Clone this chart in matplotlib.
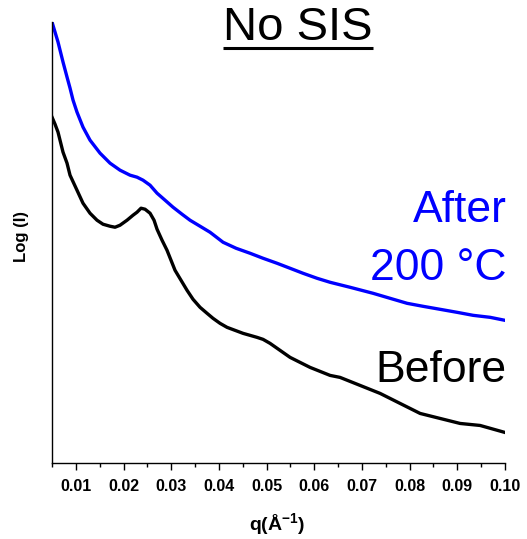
import matplotlib
matplotlib.use("Agg")
import matplotlib.pyplot as plt
from matplotlib.lines import Line2D
from matplotlib.ticker import MultipleLocator, FixedLocator

plt.rcParams['font.family'] = ['Liberation Sans', 'DejaVu Sans']
plt.rcParams['mathtext.fontset'] = 'custom'
plt.rcParams['mathtext.rm'] = 'Liberation Sans'
plt.rcParams['mathtext.bf'] = 'Liberation Sans:bold'

# Scattering vector q (1/Angstrom) and log intensity (arbitrary offset units)
q_after = [0.00500, 0.00563, 0.00626, 0.00731, 0.00815, 0.00878, 0.00941, 0.01024,
           0.01150, 0.01297, 0.01507, 0.01717, 0.01926, 0.02136, 0.02283, 0.02409,
           0.02556, 0.02703, 0.02871, 0.03038, 0.03227, 0.03395, 0.03605, 0.03814,
           0.04087, 0.04360, 0.04654, 0.04926, 0.05220, 0.05493, 0.05765, 0.06059,
           0.06332, 0.06752, 0.07234, 0.07590, 0.07947, 0.08283, 0.08640, 0.08996,
           0.09332, 0.09689, 0.10000]
logI_after = [4.40, 4.30, 4.20, 4.00, 3.85, 3.74, 3.62, 3.50,
              3.35, 3.22, 3.09, 2.99, 2.92, 2.87, 2.85, 2.82,
              2.77, 2.69, 2.62, 2.55, 2.48, 2.42, 2.36, 2.30,
              2.20, 2.14, 2.09, 2.04, 1.99, 1.94, 1.89, 1.84,
              1.80, 1.75, 1.69, 1.64, 1.59, 1.56, 1.53, 1.50,
              1.47, 1.45, 1.42]

q_before = [0.00500, 0.00563, 0.00626, 0.00731, 0.00815, 0.00878, 0.01024, 0.01150,
            0.01297, 0.01444, 0.01570, 0.01717, 0.01822, 0.01926, 0.02073, 0.02199,
            0.02283, 0.02367, 0.02451, 0.02556, 0.02640, 0.02703, 0.02808, 0.02912,
            0.02996, 0.03080, 0.03206, 0.03332, 0.03458, 0.03605, 0.03752, 0.03877,
            0.04024, 0.04171, 0.04339, 0.04507, 0.04654, 0.04800, 0.04926, 0.05073,
            0.05283, 0.05493, 0.05702, 0.05912, 0.06122, 0.06332, 0.06541, 0.06961,
            0.07381, 0.07800, 0.08220, 0.08639, 0.09059, 0.09478, 0.10000]
logI_before = [3.45, 3.38, 3.30, 3.10, 2.99, 2.87, 2.72, 2.59,
               2.49, 2.42, 2.38, 2.36, 2.35, 2.37, 2.42, 2.47,
               2.50, 2.54, 2.53, 2.49, 2.42, 2.33, 2.22, 2.12,
               2.02, 1.92, 1.82, 1.72, 1.63, 1.55, 1.49, 1.44,
               1.39, 1.35, 1.32, 1.29, 1.27, 1.25, 1.23, 1.19,
               1.12, 1.05, 1.00, 0.95, 0.91, 0.87, 0.85, 0.77,
               0.69, 0.59, 0.49, 0.44, 0.39, 0.37, 0.30]

q_ticks = [0.01, 0.02, 0.03, 0.04, 0.05, 0.06, 0.07, 0.08, 0.09, 0.10]
q_tick_labels = ["0.01", "0.02", "0.03", "0.04", "0.05", "0.06", "0.07", "0.08", "0.09", "0.10"]

BLUE = "#0000ff"

fig = plt.figure(figsize=(5.27, 5.39), dpi=100)
ax = fig.add_axes([52 / 527, 1 - 462.5 / 539, 453 / 527, 440.5 / 539])

ax.plot(q_after, logI_after, color=BLUE, lw=2.4, solid_joinstyle='round')
ax.plot(q_before, logI_before, color="black", lw=2.4, solid_joinstyle='round')

ax.set_xlim(0.005, 0.100)
ax.set_ylim(0, 4.40)

for side in ("top", "right"):
    ax.spines[side].set_visible(False)
for side in ("left", "bottom"):
    ax.spines[side].set_linewidth(1.0)

ax.xaxis.set_major_locator(FixedLocator(q_ticks))
ax.set_xticklabels(q_tick_labels, fontsize=11.5, fontweight='bold')
ax.xaxis.set_minor_locator(MultipleLocator(0.005))
ax.tick_params(axis='x', which='major', direction='out', length=5, width=1, pad=7)
ax.tick_params(axis='x', which='minor', direction='out', length=3, width=1)
ax.set_yticks([])

ax.set_xlabel(r"q(Å$^{\mathbf{-1}}$)", fontsize=14, fontweight='bold')
ax.xaxis.set_label_coords(0.497, -0.110)
ax.set_ylabel("Log (I)", fontsize=12, fontweight='bold')
ax.yaxis.set_label_coords(-0.05, 0.512)

# Curve annotations
ax.text(1.004, 0.546, "After", transform=ax.transAxes, ha='right', va='baseline',
        fontsize=32, color=BLUE)
ax.text(1.004, 0.414, "200 °C", transform=ax.transAxes, ha='right', va='baseline',
        fontsize=32, color=BLUE)
ax.text(1.004, 0.183, "Before", transform=ax.transAxes, ha='right', va='baseline',
        fontsize=32, color="black")

# Underlined title
title = fig.text(298 / 527, 1 - 40 / 539, "No SIS", ha='center', va='baseline',
                 fontsize=34, color="black")
fig.canvas.draw()
bb = title.get_window_extent(renderer=fig.canvas.get_renderer())
x0, x1 = bb.x0 / fig.bbox.width, bb.x1 / fig.bbox.width
y_ul = 1 - 48 / 539
fig.add_artist(Line2D([x0, x1], [y_ul, y_ul], transform=fig.transFigure,
                      color="black", lw=2.2, solid_capstyle='butt'))

fig.savefig("out.png", dpi=100)
